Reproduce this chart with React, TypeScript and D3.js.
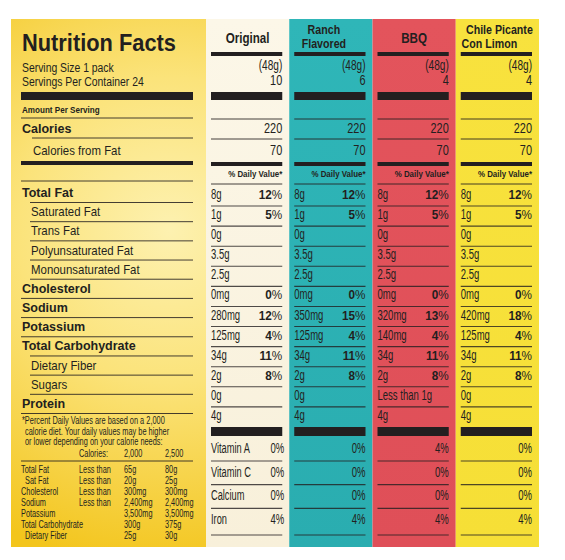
import React from "react";
import * as d3 from "d3";

// ---------- data ----------
const products = ["Original", "Ranch Flavored", "BBQ", "Chile Picante Con Limon"];
const productTitleLines = [["Original"], ["Ranch", "Flavored"], ["BBQ"], ["Chile Picante", "Con Limon"]];
const servingSizeLabels = ["(48g)", "(48g)", "(48g)", "(48g)"];
const servingsPerContainer = [10, 6, 4, 4];
const calories = [220, 220, 220, 220];
const caloriesFromFat = [70, 70, 70, 70];

const nutrients = [
  "Total Fat", "Saturated Fat", "Trans Fat", "Polyunsaturated Fat", "Monounsaturated Fat",
  "Cholesterol", "Sodium", "Potassium", "Total Carbohydrate", "Dietary Fiber", "Sugars", "Protein",
];
const nutrientIndented = [false, true, true, true, true, false, false, false, false, true, true, false];

const amountsOriginal = ["8g", "1g", "0g", "3.5g", "2.5g", "0mg", "280mg", "125mg", "34g", "2g", "0g", "4g"];
const amountsRanch = ["8g", "1g", "0g", "3.5g", "2.5g", "0mg", "350mg", "125mg", "34g", "2g", "0g", "4g"];
const amountsBBQ = ["8g", "1g", "0g", "3.5g", "2.5g", "0mg", "320mg", "140mg", "34g", "2g", "Less than 1g", "4g"];
const amountsChile = ["8g", "1g", "0g", "3.5g", "2.5g", "0mg", "420mg", "125mg", "34g", "2g", "0g", "4g"];

const dvOriginal = [12, 5, null, null, null, 0, 12, 4, 11, 8, null, null];
const dvRanch = [12, 5, null, null, null, 0, 15, 4, 11, 8, null, null];
const dvBBQ = [12, 5, null, null, null, 0, 13, 4, 11, 8, null, null];
const dvChile = [12, 5, null, null, null, 0, 18, 4, 11, 8, null, null];

const vitamins = ["Vitamin A", "Vitamin C", "Calcium", "Iron"];
const vitOriginal = [0, 0, 0, 4];
const vitRanch = [0, 0, 0, 4];
const vitBBQ = [4, 0, 0, 4];
const vitChile = [0, 0, 0, 4];

const footnoteLines = [
  "*Percent Daily Values are based on a 2,000",
  "calorie diet. Your daily values may be higher",
  "or lower depending on your calorie needs:",
];
const dvCalorieLevels = ["2,000", "2,500"];
const dvTableLabels = ["Total Fat", "Sat Fat", "Cholesterol", "Sodium", "Potassium", "Total Carbohydrate", "Dietary Fiber"];
const dvTableIndented = [false, true, false, false, false, false, true];
const dvTableLessThan = [true, true, true, true, false, false, false];
const dv2000 = ["65g", "20g", "300mg", "2,400mg", "3,500mg", "300g", "25g"];
const dv2500 = ["80g", "25g", "300mg", "2,400mg", "3,500mg", "375g", "30g"];

const amountsByProduct = [amountsOriginal, amountsRanch, amountsBBQ, amountsChile];
const dvByProduct = [dvOriginal, dvRanch, dvBBQ, dvChile];
const vitByProduct = [vitOriginal, vitRanch, vitBBQ, vitChile];

// ---------- style ----------
const INK = "#231f20";
const FONT = "'Liberation Sans', Arial, Helvetica, sans-serif";
const columnFills = ["url(#gOrig)", "url(#gRanch)", "url(#gBBQ)", "url(#gChile)"];
const titleDx = [0, -7, 0, 0];
const titleLineDx = [[0], [0, 0], [0], [2, -8]];

type TP = {
  x: number; y: number; size?: number; weight?: number | string; sx?: number;
  anchor?: "start" | "middle" | "end"; fill?: string; children?: React.ReactNode; tl?: number;
};
function T({ x, y, size = 13, weight = 400, sx = 1, anchor = "start", fill = INK, children, tl }: TP) {
  return (
    <text
      transform={`translate(${x},${y}) scale(${sx},1)`}
      fontSize={size}
      fontWeight={weight}
      textAnchor={anchor}
      fill={fill}
      fontFamily={FONT}
      textLength={tl}
      lengthAdjust={tl ? "spacingAndGlyphs" : undefined}
    >
      {children}
    </text>
  );
}

function HLine({ x1, x2, y, w = 1, c = INK, o = 0.85 }: { x1: number; x2: number; y: number; w?: number; c?: string; o?: number }) {
  return <line x1={x1} x2={x2} y1={y} y2={y} stroke={c} strokeWidth={w} strokeOpacity={o} />;
}

export default function App() {
  const W = 565, H = 560;
  const top = 19, bottom = 547;
  const leftX0 = 11, leftX1 = 206;
  const lx = 21, lxr = 193, lind = 31;

  const colX = d3.scaleBand<string>().domain(products).range([206, 539]);
  const leftRowY = d3.scalePoint<string>().domain(nutrients).range([197, 408]);
  const colRowY = d3.scalePoint<string>().domain(nutrients).range([199, 420]);
  const vitY = d3.scalePoint<string>().domain(vitamins).range([453, 524]);
  const dvTableY = d3.scalePoint<string>().domain(dvTableLabels).range([473, 539]);

  const colInnerL = (p: string) => (colX(p) as number) + 5;
  const colInnerR = (p: string) => (colX(p) as number) + colX.bandwidth() - 7;

  const lineStart = (i: number) =>
    nutrientIndented[i] || (i + 1 < nutrients.length && nutrientIndented[i + 1]) ? 30 : lx;

  return (
    <svg width={W} height={H} style={{ position: "absolute", left: 0, top: 0, background: "#fff" }}>
      <defs>
        <radialGradient id="gLeft" cx="170" cy="230" r="340" gradientUnits="userSpaceOnUse">
          <stop offset="0" stopColor="#fdf1b0" />
          <stop offset="0.45" stopColor="#fbe37a" />
          <stop offset="1" stopColor="#f3c51c" />
        </radialGradient>
        <linearGradient id="gOrig" x1="0" y1="0" x2="0" y2="1">
          <stop offset="0" stopColor="#fcf7e8" />
          <stop offset="1" stopColor="#f8f0da" />
        </linearGradient>
        <linearGradient id="gRanch" x1="0" y1="0" x2="0" y2="1">
          <stop offset="0" stopColor="#2fb6b8" />
          <stop offset="1" stopColor="#2aadb0" />
        </linearGradient>
        <linearGradient id="gBBQ" x1="0" y1="0" x2="0" y2="1">
          <stop offset="0" stopColor="#e3545c" />
          <stop offset="1" stopColor="#df4f58" />
        </linearGradient>
        <linearGradient id="gChile" x1="0" y1="0" x2="0" y2="1">
          <stop offset="0" stopColor="#f8e23e" />
          <stop offset="1" stopColor="#f6df36" />
        </linearGradient>
      </defs>

      {/* left panel */}
      <rect x={leftX0} y={top} width={leftX1 - leftX0} height={bottom - top} fill="url(#gLeft)" />

      <T x={22} y={51} size={24} weight={700} tl={154}>Nutrition Facts</T>
      <T x={22} y={71.5} size={13.5} sx={0.77}>Serving Size 1 pack</T>
      <T x={22} y={86} size={13.5} sx={0.77}>Servings Per Container 24</T>
      <rect x={lx} y={92} width={lxr - lx} height={8} fill={INK} />
      <T x={22} y={113} size={9.3} weight={700} sx={0.87}>Amount Per Serving</T>
      <HLine x1={lx} x2={lxr} y={118} />
      <T x={22} y={133} size={12.5} weight={700}>Calories</T>
      <HLine x1={32} x2={lxr} y={138} />
      <T x={33} y={155} size={13} sx={0.88}>Calories from Fat</T>
      <rect x={lx} y={161} width={lxr - lx} height={4} fill={INK} />
      <HLine x1={lx} x2={lxr} y={181} />

      {nutrients.map((n, i) => (
        <g key={n}>
          {nutrientIndented[i] ? (
            <T x={lind} y={leftRowY(n) as number} size={13} sx={0.88}>{n}</T>
          ) : (
            <T x={22} y={leftRowY(n) as number} size={12.5} weight={700}>{n}</T>
          )}
          <HLine x1={i === nutrients.length - 1 ? lx : lineStart(i)} x2={lxr} y={(leftRowY(n) as number) + 5.5} />
        </g>
      ))}

      {footnoteLines.map((s, i) => (
        <T key={s} x={i === 0 ? 22 : 25} y={424 + i * 10.6} size={10} sx={0.74}>{s}</T>
      ))}
      <T x={79} y={457} size={10.5} sx={0.7}>Calories:</T>
      {dvCalorieLevels.map((c, i) => (
        <T key={c} x={i === 0 ? 124 : 165} y={457} size={10.5} sx={0.7}>{c}</T>
      ))}
      <HLine x1={lx} x2={lxr} y={461} />
      {dvTableLabels.map((l, i) => {
        const y = dvTableY(l) as number;
        return (
          <g key={l}>
            <T x={dvTableIndented[i] ? 25 : 21} y={y} size={10.5} sx={0.7}>{l}</T>
            {dvTableLessThan[i] && <T x={79} y={y} size={10.5} sx={0.7}>Less than</T>}
            <T x={124} y={y} size={10.5} sx={0.7}>{dv2000[i]}</T>
            <T x={165} y={y} size={10.5} sx={0.7}>{dv2500[i]}</T>
          </g>
        );
      })}

      {/* product columns */}
      {products.map((p, pi) => {
        const x0 = colX(p) as number;
        const L = colInnerL(p);
        const R = colInnerR(p);
        const cx = x0 + colX.bandwidth() / 2 + titleDx[pi];
        const lines = productTitleLines[pi];
        const amounts = amountsByProduct[pi];
        const dvs = dvByProduct[pi];
        const vits = vitByProduct[pi];
        return (
          <g key={p}>
            <rect x={x0} y={top} width={colX.bandwidth()} height={bottom - top} fill={columnFills[pi]} />
            {lines.map((t, li) => (
              <T
                key={t}
                x={cx + titleLineDx[pi][li]}
                y={lines.length === 1 ? 43 : 34 + li * 14}
                size={lines.length === 1 ? 14.5 : 13}
                weight={700}
                sx={lines.length === 1 ? 0.8 : 0.82}
                anchor="middle"
              >
                {t}
              </T>
            ))}
            <rect x={L} y={52} width={R - L} height={4} fill={INK} />
            <T x={R} y={70} size={14} sx={0.72} anchor="end">{servingSizeLabels[pi]}</T>
            <T x={R} y={85} size={14} sx={0.78} anchor="end">{servingsPerContainer[pi]}</T>
            <rect x={L} y={92} width={R - L} height={8} fill={INK} />
            <HLine x1={L} x2={R} y={119} />
            <T x={R} y={133} size={14} sx={0.78} anchor="end">{calories[pi]}</T>
            <HLine x1={L} x2={R} y={139} />
            <T x={R} y={155} size={14} sx={0.78} anchor="end">{caloriesFromFat[pi]}</T>
            <rect x={L} y={162} width={R - L} height={4} fill={INK} />
            <T x={R} y={177} size={9} weight={700} sx={0.88} anchor="end">% Daily Value*</T>
            <HLine x1={L} x2={R} y={184} />

            {nutrients.map((n, i) => {
              const y = colRowY(n) as number;
              return (
                <g key={n}>
                  <T x={L} y={y} size={14} sx={0.68}>{amounts[i]}</T>
                  {dvs[i] !== null && (
                    <text
                      transform={`translate(${R},${y}) scale(0.87,1)`}
                      fontSize={13.5}
                      textAnchor="end"
                      fill={INK}
                      fontFamily={FONT}
                    >
                      <tspan fontWeight={700}>{dvs[i]}</tspan>
                      <tspan fontWeight={400}>%</tspan>
                    </text>
                  )}
                  {i < nutrients.length - 1 && <HLine x1={L} x2={R} y={y + 7} w={1.1} o={0.8} />}
                </g>
              );
            })}

            <rect x={L} y={427} width={R - L} height={9} fill={INK} />
            {vitamins.map((v, i) => {
              const y = vitY(v) as number;
              return (
                <g key={v}>
                  {pi === 0 && <T x={L} y={y} size={14} sx={0.66}>{v}</T>}
                  <T x={pi === 0 ? R + 2 : R} y={y} size={14} sx={0.68} anchor="end">{vits[i]}%</T>
                  <HLine x1={L} x2={R} y={y + (i === 3 ? 11 : 8)} w={1.1} o={0.8} />
                </g>
              );
            })}
          </g>
        );
      })}
    </svg>
  );
}
